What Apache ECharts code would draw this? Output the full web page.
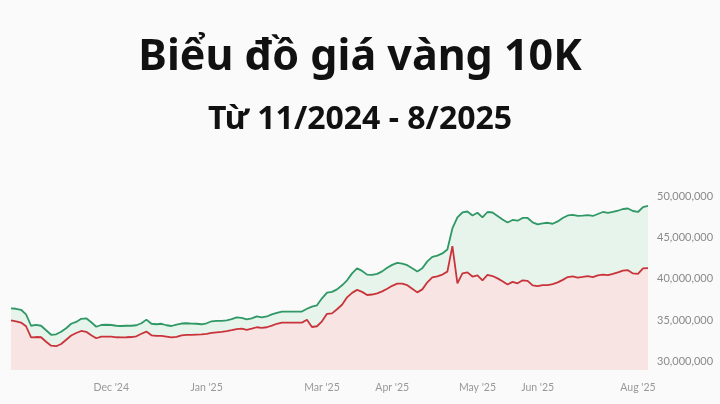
<!DOCTYPE html>
<html>
<head>
<meta charset="utf-8">
<script src="https://cdn.jsdelivr.net/npm/echarts@6/dist/echarts.min.js"></script>
<style>
  html, body { margin: 0; padding: 0; background: #fafafa; }
  #chart { width: 720px; height: 404px; }
</style>
</head>
<body>
<div id="chart"></div>
<script>
// gia ban (xanh) va gia mua (do), don vi: trieu dong
var sellPrice = [
  36.45, 36.39, 36.27, 35.72, 34.34, 34.46, 34.34, 33.80, 33.25, 33.31,
  33.61, 34.04, 34.58, 34.80, 35.18, 35.24, 34.76, 34.22, 34.43, 34.46,
  34.43, 34.34, 34.31, 34.34, 34.34, 34.40, 34.64, 35.08, 34.58, 34.52,
  34.58, 34.40, 34.31, 34.48, 34.61, 34.64, 34.60, 34.58, 34.52, 34.64,
  34.88, 34.92, 34.92, 35.00, 35.14, 35.34, 35.30, 35.12, 35.24, 35.48,
  35.36, 35.46, 35.72, 35.90, 36.05, 36.05, 36.05, 36.05, 36.05, 36.39,
  36.65, 36.81, 37.65, 38.34, 38.43, 38.73, 39.22, 39.82, 40.66, 41.27,
  40.96, 40.51, 40.48, 40.60, 40.90, 41.35, 41.69, 41.93, 41.84, 41.65,
  41.27, 40.90, 41.27, 42.11, 42.65, 42.80, 43.07, 43.55, 46.08, 47.41,
  48.01, 48.13, 47.65, 47.98, 47.41, 48.07, 48.01, 47.59, 47.17, 46.81,
  47.11, 47.02, 47.35, 47.35, 46.81, 46.57, 46.69, 46.77, 46.65, 46.93,
  47.35, 47.65, 47.73, 47.59, 47.63, 47.69, 47.59, 47.83, 48.07, 47.95,
  48.07, 48.22, 48.43, 48.49, 48.19, 48.07, 48.67, 48.80
];
var buyPrice = [
  35.00, 34.88, 34.73, 34.28, 32.93, 32.98, 32.95, 32.41, 31.93, 31.87,
  32.14, 32.65, 33.17, 33.47, 33.71, 33.61, 33.19, 32.83, 33.04, 33.04,
  33.04, 32.95, 32.93, 32.95, 32.98, 33.07, 33.37, 33.64, 33.19, 33.11,
  33.11, 33.04, 32.95, 33.01, 33.19, 33.25, 33.25, 33.28, 33.31, 33.37,
  33.49, 33.55, 33.61, 33.70, 33.80, 33.94, 34.00, 33.83, 33.98, 34.16,
  34.08, 34.16, 34.36, 34.58, 34.72, 34.72, 34.72, 34.72, 34.72, 35.06,
  34.19, 34.28, 34.88, 35.78, 35.84, 36.33, 36.87, 37.77, 38.31, 38.67,
  38.43, 38.05, 38.11, 38.25, 38.49, 38.80, 39.16, 39.42, 39.42, 39.24,
  38.80, 38.37, 38.73, 39.58, 40.18, 40.30, 40.52, 40.87, 43.95, 39.46,
  40.66, 40.78, 40.28, 40.42, 39.82, 40.48, 40.34, 40.06, 39.70, 39.31,
  39.64, 39.46, 39.82, 39.76, 39.22, 39.12, 39.25, 39.25, 39.37, 39.58,
  39.88, 40.22, 40.30, 40.16, 40.23, 40.33, 40.20, 40.42, 40.52, 40.45,
  40.59, 40.78, 40.99, 41.05, 40.66, 40.60, 41.27, 41.30
];

// nhan truc x
var tickIndex = [20, 39, 62, 76, 93, 105, 125];
var tickText = ["Dec '24", "Jan '25", "Mar '25", "Apr '25", "May '25", "Jun '25", "Aug '25"];

var categories = [];
for (var i = 0; i < sellPrice.length; i++) categories.push(String(i));

var chart = echarts.init(document.getElementById('chart'));

var option = {
  backgroundColor: '#fafafa',
  animation: false,
  title: [
    {
      text: 'Biểu đồ giá vàng 10K',
      left: 'center',
      top: 31,
      textStyle: { fontFamily: 'Noto Sans', fontWeight: 'bold', fontSize: 43, color: '#111' }
    },
    {
      text: 'Từ 11/2024 - 8/2025',
      left: 'center',
      top: 99,
      textStyle: { fontFamily: 'Noto Sans', fontWeight: 'bold', fontSize: 32, color: '#111' }
    }
  ],
  grid: { left: 11, right: 72, top: 196, bottom: 34 },
  xAxis: {
    type: 'category',
    data: categories,
    boundaryGap: false,
    axisLine: { show: false },
    axisTick: { show: false },
    axisLabel: {
      margin: 12,
      color: '#999',
      fontSize: 10.5,
      fontFamily: 'Lato',
      interval: function (idx) { return tickIndex.indexOf(idx) >= 0; },
      formatter: function (val, idx) { return tickText[tickIndex.indexOf(idx)]; }
    }
  },
  yAxis: {
    type: 'value',
    position: 'right',
    min: 29,
    max: 50,
    interval: 1,
    splitLine: { show: false },
    axisLine: { show: false },
    axisTick: { show: false },
    axisLabel: {
      margin: 9,
      color: '#8a8a8a',
      fontSize: 11,
      fontFamily: 'Lato',
      formatter: function (v) {
        return v % 5 === 0 ? (v * 1000000).toLocaleString('en-US') : '';
      }
    }
  },
  series: [
    {
      name: 'Bán ra',
      type: 'line',
      data: sellPrice,
      symbol: 'none',
      lineStyle: { color: '#2f9865', width: 1.8 },
      areaStyle: { color: '#e6f4ec', opacity: 1 },
      z: 2
    },
    {
      name: 'Mua vào',
      type: 'line',
      data: buyPrice,
      symbol: 'none',
      lineStyle: { color: '#c8343a', width: 1.8 },
      areaStyle: { color: '#f9e4e4', opacity: 1 },
      z: 3
    }
  ]
};

chart.setOption(option);
</script>
</body>
</html>
